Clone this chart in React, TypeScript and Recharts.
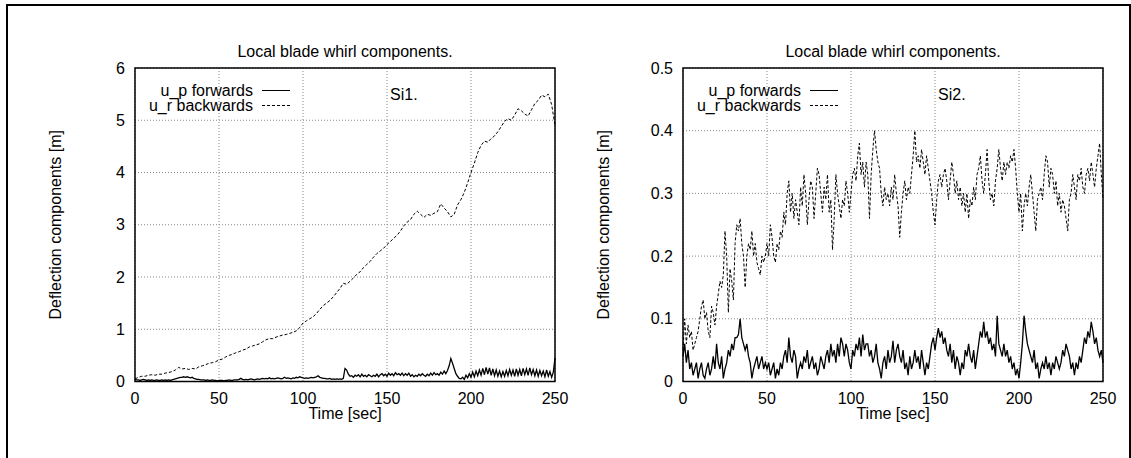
import { LineChart, Line, XAxis, YAxis, CartesianGrid, ReferenceArea, Legend } from "recharts";

const FONT = '"Liberation Sans", Arial, Helvetica, sans-serif';

// time axis ticks shared by both panels
const timeTicks = [0, 50, 100, 150, 200, 250];
const siOneTicks = [0, 1, 2, 3, 4, 5, 6];
const siTwoTicks = [0, 0.1, 0.2, 0.3, 0.4, 0.5];

// Si1, u_p forwards, one sample per second
const siOneForward = [
  0.04, 0.03, 0.03, 0.02, 0.03, 0.04, 0.03, 0.02, 0.03, 0.02,
  0.03, 0.02, 0.02, 0.03, 0.02, 0.02, 0.03, 0.02, 0.03, 0.02,
  0.03, 0.02, 0.03, 0.04, 0.05, 0.06, 0.07, 0.08, 0.08, 0.09,
  0.08, 0.09, 0.08, 0.07, 0.08, 0.06, 0.05, 0.04, 0.04, 0.03,
  0.03, 0.03, 0.02, 0.03, 0.02, 0.02, 0.03, 0.02, 0.02, 0.01,
  0.02, 0.02, 0.02, 0.01, 0.02, 0.02, 0.03, 0.02, 0.02, 0.03,
  0.03, 0.03, 0.04, 0.06, 0.04, 0.03, 0.04, 0.03, 0.04, 0.05,
  0.04, 0.03, 0.04, 0.05, 0.04, 0.05, 0.06, 0.05, 0.06, 0.05,
  0.07, 0.05, 0.06, 0.05, 0.06, 0.07, 0.06, 0.05, 0.06, 0.08,
  0.06, 0.07, 0.06, 0.05, 0.07, 0.06, 0.08, 0.07, 0.09, 0.08,
  0.07, 0.06, 0.07, 0.06, 0.07, 0.08, 0.07, 0.08, 0.09, 0.11,
  0.08, 0.07, 0.06, 0.06, 0.05, 0.05, 0.06, 0.04, 0.05, 0.04,
  0.05, 0.04, 0.05, 0.04, 0.06, 0.25, 0.22, 0.14, 0.1, 0.11,
  0.08, 0.12, 0.1, 0.13, 0.09, 0.14, 0.1, 0.12, 0.09, 0.13,
  0.11, 0.09, 0.12, 0.1, 0.14, 0.09, 0.13, 0.15, 0.11, 0.14,
  0.1, 0.16, 0.12, 0.15, 0.11, 0.17, 0.13, 0.15, 0.12, 0.16,
  0.11, 0.15, 0.12, 0.16, 0.1, 0.13, 0.09, 0.12, 0.1, 0.14,
  0.11, 0.15, 0.12, 0.1, 0.14, 0.11, 0.16, 0.12, 0.17, 0.13,
  0.15, 0.12, 0.18, 0.14, 0.2, 0.15, 0.21, 0.3, 0.44, 0.35,
  0.25, 0.15, 0.1, 0.06, 0.05, 0.08, 0.04, 0.12, 0.07, 0.15,
  0.08, 0.18, 0.09, 0.2, 0.11, 0.22, 0.12, 0.25, 0.13, 0.27,
  0.14, 0.26, 0.12, 0.24, 0.11, 0.22, 0.1, 0.2, 0.09, 0.19,
  0.1, 0.21, 0.11, 0.23, 0.12, 0.22, 0.1, 0.24, 0.12, 0.23,
  0.11, 0.25, 0.13, 0.24, 0.12, 0.26, 0.13, 0.23, 0.11, 0.22,
  0.1, 0.21, 0.11, 0.2, 0.09, 0.22, 0.1, 0.19, 0.08, 0.18,
  0.45,
];

// Si1, u_r backwards, one sample every 2 seconds
const siOneBackward = [
  0.05, 0.08, 0.1, 0.1, 0.12, 0.13, 0.12, 0.14, 0.14, 0.16,
  0.17, 0.19, 0.22, 0.27, 0.24, 0.25, 0.23, 0.25, 0.24, 0.28,
  0.3, 0.32, 0.35, 0.36, 0.38, 0.41, 0.43, 0.47, 0.5, 0.52,
  0.55, 0.57, 0.6, 0.62, 0.66, 0.68, 0.7, 0.72, 0.76, 0.8,
  0.82, 0.82, 0.85, 0.87, 0.89, 0.9, 0.92, 0.94, 0.97, 1.03,
  1.12, 1.16, 1.2, 1.24, 1.3, 1.38, 1.45, 1.5, 1.55, 1.62,
  1.7, 1.78, 1.88, 1.86, 1.92, 1.98, 2.05, 2.1, 2.18, 2.24,
  2.3, 2.38, 2.45, 2.5, 2.55, 2.62, 2.68, 2.74, 2.8, 2.88,
  2.98, 3.05, 3.1, 3.2, 3.26, 3.2, 3.14, 3.2, 3.18, 3.22,
  3.25, 3.4, 3.32, 3.25, 3.15, 3.2, 3.38, 3.48, 3.62, 3.8,
  4.0, 4.18, 4.38, 4.52, 4.6, 4.58, 4.65, 4.7, 4.78, 4.88,
  4.98, 5.03, 5.0, 5.1, 5.22, 5.18, 5.12, 5.08, 5.2, 5.32,
  5.38, 5.48, 5.45, 5.5, 5.3, 4.9,
];

// Si2, u_p forwards, one sample per second
const siTwoForward = [
  0.04, 0.06, 0.03, 0.05, 0.02, 0.03, 0.01, 0.02, 0.03, 0.005,
  0.02, 0.03, 0.01, 0.005, 0.02, 0.03, 0.01, 0.02, 0.04, 0.02,
  0.06, 0.03, 0.02, 0.04, 0.005, 0.02, 0.03, 0.05, 0.04, 0.06,
  0.05, 0.07, 0.07, 0.075, 0.1, 0.07, 0.06, 0.05, 0.06, 0.04,
  0.03, 0.005, 0.02, 0.03, 0.04, 0.02, 0.03, 0.04, 0.02, 0.03,
  0.02, 0.03, 0.01, 0.02, 0.03, 0.005, 0.02, 0.01, 0.03, 0.02,
  0.04, 0.05, 0.03, 0.07, 0.04, 0.03, 0.05, 0.04, 0.005, 0.02,
  0.03, 0.02, 0.04, 0.03, 0.05, 0.02, 0.03, 0.04, 0.02, 0.03,
  0.01, 0.02, 0.04, 0.03, 0.02, 0.04, 0.05, 0.03, 0.06, 0.04,
  0.05, 0.03, 0.06, 0.04, 0.07, 0.06, 0.04, 0.06, 0.05, 0.03,
  0.02, 0.05, 0.04, 0.06, 0.05, 0.07, 0.04, 0.075, 0.05, 0.06,
  0.06, 0.04, 0.05, 0.03, 0.04, 0.06, 0.03, 0.02, 0.005, 0.03,
  0.04, 0.02, 0.05, 0.03, 0.04, 0.065, 0.03, 0.05, 0.06, 0.04,
  0.03, 0.05, 0.02, 0.03, 0.01, 0.04, 0.02, 0.03, 0.05, 0.03,
  0.04, 0.02, 0.05, 0.03, 0.01, 0.03, 0.02, 0.04, 0.06, 0.07,
  0.05, 0.07, 0.085, 0.07, 0.08, 0.06, 0.07, 0.05, 0.04, 0.06,
  0.03, 0.05, 0.02, 0.04, 0.03, 0.01, 0.03, 0.02, 0.05, 0.04,
  0.06, 0.04, 0.03, 0.05, 0.02, 0.04, 0.06, 0.08, 0.07, 0.095,
  0.07, 0.08, 0.06, 0.07, 0.05, 0.06, 0.04, 0.105, 0.06, 0.05,
  0.04, 0.06, 0.04, 0.05, 0.03, 0.04, 0.02, 0.03, 0.01, 0.02,
  0.005, 0.03, 0.06, 0.105, 0.08, 0.06, 0.05, 0.04, 0.03, 0.05,
  0.02, 0.03, 0.005, 0.02, 0.03, 0.02, 0.04, 0.02, 0.03, 0.01,
  0.03, 0.02, 0.04, 0.03, 0.02, 0.03, 0.05, 0.04, 0.06, 0.05,
  0.04, 0.02, 0.03, 0.01, 0.03, 0.02, 0.04, 0.03, 0.05, 0.07,
  0.06, 0.08, 0.07, 0.095, 0.08, 0.06, 0.07, 0.05, 0.04, 0.05,
  0.03,
];

// Si2, u_r backwards, one sample per second
const siTwoBackward = [
  0.05, 0.1, 0.06, 0.09, 0.07, 0.08, 0.05, 0.06, 0.07, 0.08,
  0.1, 0.12, 0.13, 0.1, 0.11, 0.08, 0.07, 0.12, 0.11, 0.09,
  0.12, 0.14, 0.16, 0.15, 0.17, 0.24, 0.2, 0.11, 0.18, 0.16,
  0.13, 0.22, 0.25, 0.24, 0.26, 0.22, 0.2, 0.15, 0.2, 0.22,
  0.21, 0.24, 0.2, 0.22, 0.19, 0.18, 0.17, 0.2, 0.19, 0.2,
  0.22, 0.2, 0.25, 0.23, 0.2, 0.19, 0.22, 0.21, 0.24, 0.23,
  0.27, 0.25, 0.3, 0.32, 0.27, 0.3, 0.26, 0.29, 0.27, 0.25,
  0.31, 0.28, 0.33, 0.3, 0.25, 0.29, 0.32, 0.31, 0.26, 0.3,
  0.34, 0.33, 0.3, 0.27, 0.31, 0.29, 0.33, 0.27, 0.29, 0.21,
  0.26, 0.33, 0.3, 0.28, 0.26, 0.29, 0.28, 0.32, 0.3, 0.27,
  0.3, 0.33, 0.34, 0.32, 0.36, 0.38, 0.33, 0.35, 0.31, 0.35,
  0.33, 0.26, 0.33, 0.37, 0.4, 0.37, 0.35, 0.34, 0.3, 0.28,
  0.31, 0.29, 0.3, 0.28, 0.31, 0.29, 0.33, 0.3, 0.28, 0.23,
  0.27, 0.3, 0.32, 0.29, 0.31, 0.3, 0.33, 0.36, 0.4, 0.35,
  0.36, 0.34, 0.37, 0.35, 0.33, 0.36, 0.34, 0.32, 0.3, 0.27,
  0.25, 0.29, 0.32, 0.33, 0.31, 0.33, 0.34, 0.32, 0.29, 0.32,
  0.35, 0.33, 0.3, 0.32, 0.29, 0.31, 0.28, 0.3, 0.27, 0.3,
  0.26, 0.29, 0.28, 0.31, 0.29, 0.33, 0.34, 0.36, 0.32, 0.3,
  0.33, 0.37, 0.32, 0.29, 0.3, 0.28, 0.32, 0.34, 0.37, 0.34,
  0.32, 0.35, 0.33, 0.35, 0.34, 0.36, 0.35, 0.37, 0.34, 0.3,
  0.27, 0.3, 0.24, 0.28, 0.3, 0.28, 0.31, 0.33, 0.3, 0.27,
  0.24, 0.29, 0.3, 0.31, 0.29, 0.33, 0.36, 0.35, 0.31, 0.34,
  0.33, 0.3, 0.32, 0.28, 0.3, 0.27, 0.29, 0.28, 0.26, 0.24,
  0.29, 0.3, 0.33, 0.31, 0.29, 0.33, 0.32, 0.34, 0.31, 0.3,
  0.33, 0.34, 0.32, 0.35, 0.33, 0.31, 0.34, 0.36, 0.38, 0.33,
  0.29,
];

const toPoints = (values: number[], step: number) =>
  values.map((v, i) => ({ t: i * step, v }));

const legendRows = [
  { label: "u_p forwards", dash: undefined },
  { label: "u_r backwards", dash: "3 2" },
];

const textStyle = { fontFamily: FONT, fontSize: 16, fill: "#000" };

function WhirlLegend() {
  return (
    <div style={{ fontFamily: FONT, fontSize: 16, lineHeight: "15px", color: "#000" }}>
      {legendRows.map((r) => (
        <div key={r.label} style={{ display: "flex", alignItems: "center", height: 15 }}>
          <span style={{ width: 118, textAlign: "right", whiteSpace: "nowrap" }}>{r.label}</span>
          <svg width={37} height={15} style={{ display: "block" }}>
            <line x1={9} x2={37} y1={7.5} y2={7.5} stroke="#000" strokeWidth={1} strokeDasharray={r.dash} />
          </svg>
        </div>
      ))}
    </div>
  );
}

function SideTitle({ viewBox, text }: any) {
  const cx = viewBox.x + viewBox.width - 80;
  const cy = viewBox.y + viewBox.height / 2;
  return (
    <text x={cx} y={cy} transform={`rotate(-90 ${cx} ${cy})`} textAnchor="middle" dominantBaseline="central" style={textStyle}>
      {text}
    </text>
  );
}

function BottomTitle({ viewBox, text }: any) {
  return (
    <text x={viewBox.x + viewBox.width / 2} y={viewBox.y + 37} textAnchor="middle" style={textStyle}>
      {text}
    </text>
  );
}

interface PanelProps {
  left: number;
  width: number;
  axisWidth: number;
  yMax: number;
  yTicks: number[];
  forward: { t: number; v: number }[];
  backward: { t: number; v: number }[];
  tag: string;
}

const PLOT_TOP = 68;
const PLOT_BOTTOM = 381.5;
const PLOT_WIDTH = 420;
const HEIGHT = 458;

function Panel({ left, width, axisWidth, yMax, yTicks, forward, backward, tag }: PanelProps) {
  const marginRight = width - axisWidth - PLOT_WIDTH;
  const xAxisHeight = 50;
  return (
    <div style={{ position: "absolute", left, top: 0, width, height: HEIGHT }}>
      <div
        style={{
          position: "absolute",
          left: axisWidth,
          width: PLOT_WIDTH,
          top: 43,
          textAlign: "center",
          fontFamily: FONT,
          fontSize: 16,
          lineHeight: "18px",
          whiteSpace: "nowrap",
        }}
      >
        Local blade whirl components.
      </div>
      <div
        style={{
          position: "absolute",
          left: axisWidth + 255,
          top: 86,
          fontFamily: FONT,
          fontSize: 16,
          lineHeight: "18px",
        }}
      >
        {tag}
      </div>
      <LineChart
        width={width}
        height={HEIGHT}
        margin={{ top: PLOT_TOP, right: marginRight, bottom: HEIGHT - PLOT_BOTTOM - xAxisHeight, left: 0 }}
      >
        <CartesianGrid stroke="#888" strokeDasharray="1 2" />
        <XAxis
          dataKey="t"
          type="number"
          domain={[0, 250]}
          ticks={timeTicks}
          axisLine={false}
          tickLine={false}
          tickSize={0}
          tickMargin={11}
          height={xAxisHeight}
          tick={{ ...textStyle }}
          label={<BottomTitle text="Time [sec]" />}
        />
        <YAxis
          type="number"
          domain={[0, yMax]}
          ticks={yTicks}
          axisLine={false}
          tickLine={false}
          tickSize={0}
          tickMargin={10}
          width={axisWidth}
          tick={{ ...textStyle }}
          label={<SideTitle text="Deflection components [m]" />}
        />
        <Line
          data={backward}
          dataKey="v"
          type="linear"
          stroke="#000"
          strokeWidth={1}
          strokeDasharray="3 2"
          dot={false}
          isAnimationActive={false}
        />
        <Line
          data={forward}
          dataKey="v"
          type="linear"
          stroke="#000"
          strokeWidth={1.3}
          dot={false}
          isAnimationActive={false}
        />
        <ReferenceArea x1={0} x2={250} y1={0} y2={yMax} fill="none" stroke="#000" strokeWidth={1.5} />
        <Legend
          layout="vertical"
          align="center"
          verticalAlign="middle"
          content={<WhirlLegend />}
          wrapperStyle={{ top: 82.5, left: axisWidth, width: 160, margin: 0, padding: 0 }}
        />
      </LineChart>
    </div>
  );
}

export default function App() {
  return (
    <div style={{ position: "absolute", left: 0, top: 0, width: 1131, height: HEIGHT, background: "#fff", overflow: "hidden" }}>
      <div
        style={{
          position: "absolute",
          left: 6,
          top: 4,
          width: 1125,
          height: 470,
          borderTop: "2px solid #000",
          borderLeft: "2px solid #000",
          borderRight: "2px solid #000",
          boxSizing: "border-box",
        }}
      />
      <Panel
        left={0}
        width={570}
        axisWidth={135}
        yMax={6}
        yTicks={siOneTicks}
        forward={toPoints(siOneForward, 1)}
        backward={toPoints(siOneBackward, 2)}
        tag="Si1."
      />
      <Panel
        left={565}
        width={566}
        axisWidth={118}
        yMax={0.5}
        yTicks={siTwoTicks}
        forward={toPoints(siTwoForward, 1)}
        backward={toPoints(siTwoBackward, 1)}
        tag="Si2."
      />
    </div>
  );
}
